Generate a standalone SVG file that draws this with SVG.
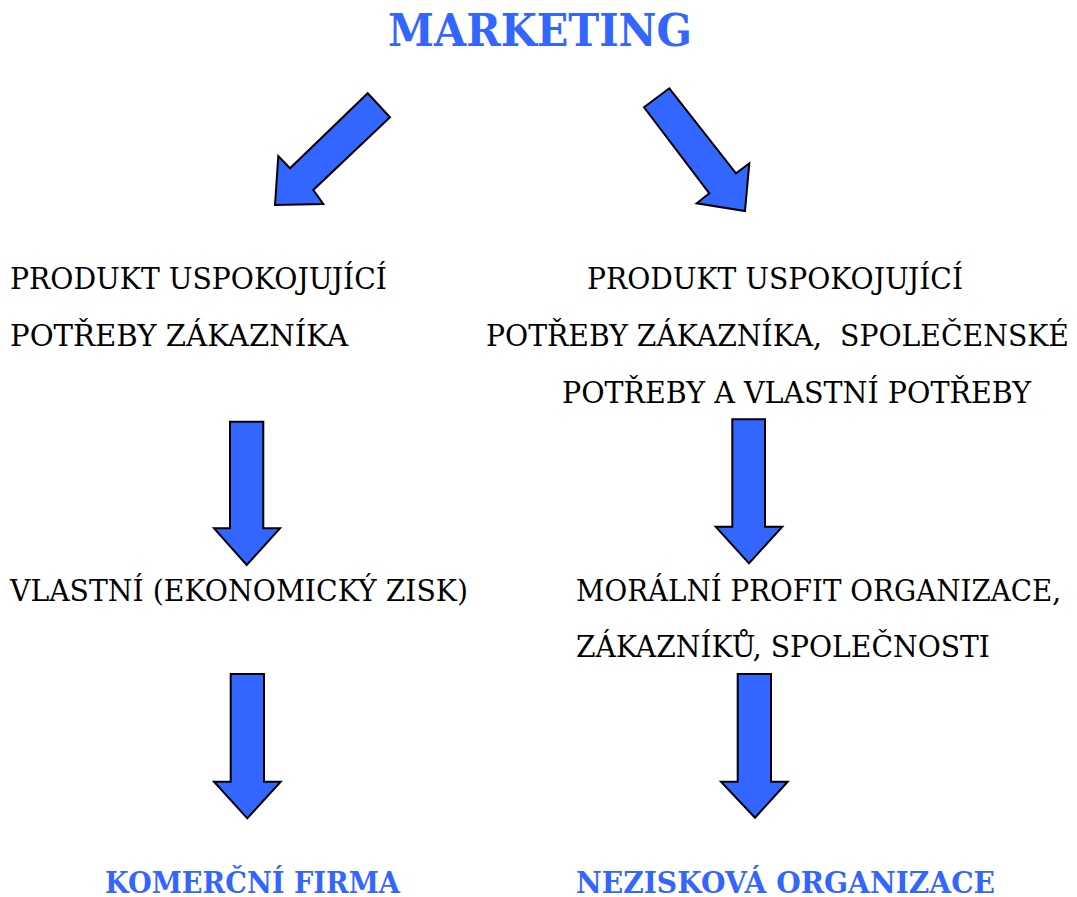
<svg xmlns="http://www.w3.org/2000/svg" width="1077" height="897" viewBox="0 0 1077 897">
  <style>
    text { font-family: 'DejaVu Serif', 'Liberation Serif', 'Times New Roman', serif; }
    .title { font-weight: bold; fill: #3366FF; }
    .body { font-size: 29px; fill: #000000; }
    .arrow { fill: #3366FF; stroke: #000000; stroke-width: 2; stroke-linejoin: miter; }
  </style>
  <rect width="1077" height="897" fill="#FFFFFF"/>

  <g id="marketing">
    <text class="title" x="388" y="46" font-size="44" textLength="304" lengthAdjust="spacingAndGlyphs">MARKETING</text>
  </g>

  <g id="left-need">
    <text class="body" x="10" y="289" textLength="377" lengthAdjust="spacingAndGlyphs">PRODUKT USPOKOJUJÍCÍ</text>
    <text class="body" x="10" y="346" textLength="338" lengthAdjust="spacingAndGlyphs">POTŘEBY ZÁKAZNÍKA</text>
  </g>

  <g id="right-need">
    <text class="body" x="587" y="289" textLength="376" lengthAdjust="spacingAndGlyphs">PRODUKT USPOKOJUJÍCÍ</text>
    <text class="body" x="486" y="346" xml:space="preserve" textLength="583" lengthAdjust="spacingAndGlyphs">POTŘEBY ZÁKAZNÍKA,  SPOLEČENSKÉ</text>
    <text class="body" x="562" y="403" textLength="469" lengthAdjust="spacingAndGlyphs">POTŘEBY A VLASTNÍ POTŘEBY</text>
  </g>

  <g id="left-profit">
    <text class="body" x="10" y="601" textLength="458" lengthAdjust="spacingAndGlyphs">VLASTNÍ (EKONOMICKÝ ZISK)</text>
  </g>

  <g id="right-profit">
    <text class="body" x="576" y="601" textLength="485" lengthAdjust="spacingAndGlyphs">MORÁLNÍ PROFIT ORGANIZACE,</text>
    <text class="body" x="576" y="657" textLength="414" lengthAdjust="spacingAndGlyphs">ZÁKAZNÍKŮ, SPOLEČNOSTI</text>
  </g>

  <g id="commercial">
    <text class="title" x="105" y="893" font-size="29" textLength="295" lengthAdjust="spacingAndGlyphs">KOMERČNÍ FIRMA</text>
  </g>

  <g id="nonprofit">
    <text class="title" x="576" y="893" font-size="29" textLength="419" lengthAdjust="spacingAndGlyphs">NEZISKOVÁ ORGANIZACE</text>
  </g>

  <g id="connectors">
    <!-- diagonal block arrows from the title -->
    <polygon class="arrow" points="367.7,93.3 390,117.3 313.3,190 323.3,204 275,205 278.3,156 290,168.3"/>
    <polygon class="arrow" points="644,107.3 669.3,88.3 736,173.3 749.3,163.3 745,211 696.7,203.3 709.3,193.3"/>
    <!-- vertical block arrows, upper row -->
    <polygon class="arrow" points="230,421.7 263.3,421.7 263.3,528.3 280,528.3 246.7,565 214,528.3 230,528.3"/>
    <polygon class="arrow" points="732.3,419.3 765,419.3 765,526.7 782.3,526.7 749,563.3 715.7,526.7 732.3,526.7"/>
    <!-- vertical block arrows, lower row -->
    <polygon class="arrow" points="230.7,674 264,674 264,781.7 280.7,781.7 247.3,818.3 214,781.7 230.7,781.7"/>
    <polygon class="arrow" points="737.7,674 771,674 771,781.7 787.7,781.7 755,817.7 721,781.7 737.7,781.7"/>
  </g>
</svg>
